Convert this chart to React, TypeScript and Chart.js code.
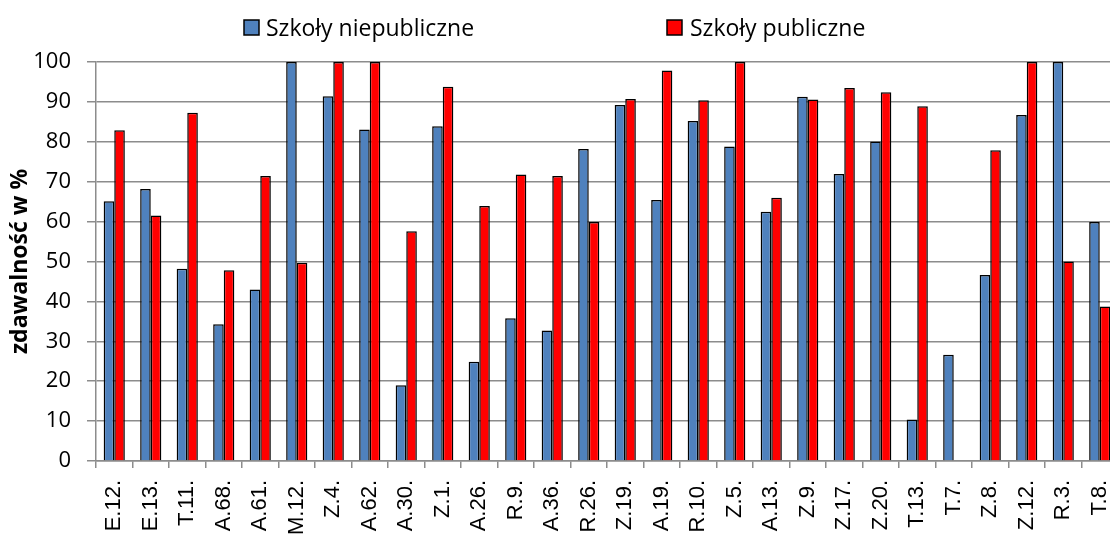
import React, { useEffect, useRef } from "react";
import { Chart, registerables } from "chart.js";

Chart.register(...registerables);

const categories = [
  "E.12.", "E.13.", "T.11.", "A.68.", "A.61.", "M.12.", "Z.4.", "A.62.", "A.30.", "Z.1.",
  "A.26.", "R.9.", "A.36.", "R.26.", "Z.19.", "A.19.", "R.10.", "Z.5.", "A.13.", "Z.9.",
  "Z.17.", "Z.20.", "T.13.", "T.7.", "Z.8.", "Z.12.", "R.3.", "T.8.",
];

const niepubliczne = [
  65.1, 68.2, 48.2, 34.3, 43.0, 100, 91.4, 83.1, 19.0, 83.9,
  24.9, 35.8, 32.7, 78.2, 89.2, 65.4, 85.2, 78.8, 62.5, 91.3,
  71.9, 80.1, 10.4, 26.6, 46.6, 86.7, 100, 59.9,
];

const publiczne = [
  82.9, 61.5, 87.3, 47.8, 71.4, 49.7, 100, 100, 57.6, 93.8,
  63.9, 71.8, 71.4, 59.9, 90.7, 97.9, 90.4, 100, 66.0, 90.6,
  93.5, 92.4, 88.9, null, 77.9, 100, 50.0, 38.7,
];

const seriesNames = ["Szkoły niepubliczne", "Szkoły publiczne"];
const seriesColors = ["#4F81BD", "#FF0000"];
const yTicks = [0, 10, 20, 30, 40, 50, 60, 70, 80, 90, 100];
const yTitle = "zdawalność w %";

const legendPlugin = {
  id: "customLegend",
  afterDraw(chart: any) {
    const ctx = chart.ctx;
    const items = [
      { box: 244, text: 266 },
      { box: 667, text: 690 },
    ];
    ctx.save();
    ctx.font = "23px 'Open Sans'";
    ctx.textBaseline = "alphabetic";
    ctx.textAlign = "left";
    items.forEach((it, i) => {
      ctx.fillStyle = seriesColors[i];
      ctx.fillRect(it.box, 20, 15, 15);
      ctx.strokeStyle = "#000";
      ctx.lineWidth = 1.5;
      ctx.strokeRect(it.box, 20, 15, 15);
      ctx.fillStyle = "#000";
      ctx.fillText(seriesNames[i], it.text, 35.5);
    });
    ctx.restore();
  },
};

export default function App() {
  const ref = useRef<HTMLCanvasElement | null>(null);

  useEffect(() => {
    if (!ref.current) return;
    const chart = new Chart(ref.current, {
      type: "bar",
      data: {
        labels: categories,
        datasets: [
          {
            label: seriesNames[0],
            data: niepubliczne,
            backgroundColor: seriesColors[0],
            borderColor: "#000",
            borderWidth: 1.5,
            categoryPercentage: 0.58,
            barPercentage: 1,
          },
          {
            label: seriesNames[1],
            data: publiczne as any,
            backgroundColor: seriesColors[1],
            borderColor: "#000",
            borderWidth: 1.5,
            categoryPercentage: 0.58,
            barPercentage: 1,
          },
        ],
      },
      options: {
        responsive: false,
        animation: false,
        layout: { padding: { top: 62, left: 0, right: 0, bottom: 0 } },
        plugins: {
          legend: { display: false },
          tooltip: { enabled: false },
        },
        scales: {
          x: {
            grid: {
              drawOnChartArea: false,
              drawTicks: true,
              tickLength: 7,
              color: "#8c8c8c",
              lineWidth: 1.5,
              offset: true,
            },
            border: { color: "#8c8c8c", width: 1.5 },
            ticks: {
              autoSkip: false,
              maxRotation: 90,
              minRotation: 90,
              padding: 12,
              color: "#000",
              font: { family: "'Liberation Sans', Arial, sans-serif", size: 22 },
            },
            afterFit(scale: any) {
              scale.height = 75;
              scale.paddingLeft = 0;
              scale.paddingRight = 0;
            },
          },
          y: {
            min: 0,
            max: 100,
            afterBuildTicks(scale: any) {
              scale.ticks = yTicks.map((v) => ({ value: v }));
            },
            grid: {
              color: "#8c8c8c",
              lineWidth: 1.5,
              tickLength: 9,
            },
            border: { color: "#8c8c8c", width: 1.5 },
            ticks: {
              padding: 16,
              color: "#000",
              font: { family: "'Open Sans', sans-serif", size: 22 },
            },
            title: {
              display: true,
              text: yTitle,
              color: "#000",
              padding: { top: 7, bottom: 0 },
              font: { family: "'Open Sans', sans-serif", size: 23, weight: "bold" },
            },
            afterFit(scale: any) {
              scale.width = 96;
              scale.paddingTop = 0;
              scale.paddingBottom = 0;
            },
          },
        },
      },
      plugins: [legendPlugin],
    });
    return () => chart.destroy();
  }, []);

  return (
    <div
      style={{
        position: "fixed",
        left: 0,
        top: 0,
        width: 1110,
        height: 536,
        overflow: "hidden",
        background: "#fff",
      }}
    >
      <canvas ref={ref} width={1118} height={536} style={{ display: "block" }} />
    </div>
  );
}
